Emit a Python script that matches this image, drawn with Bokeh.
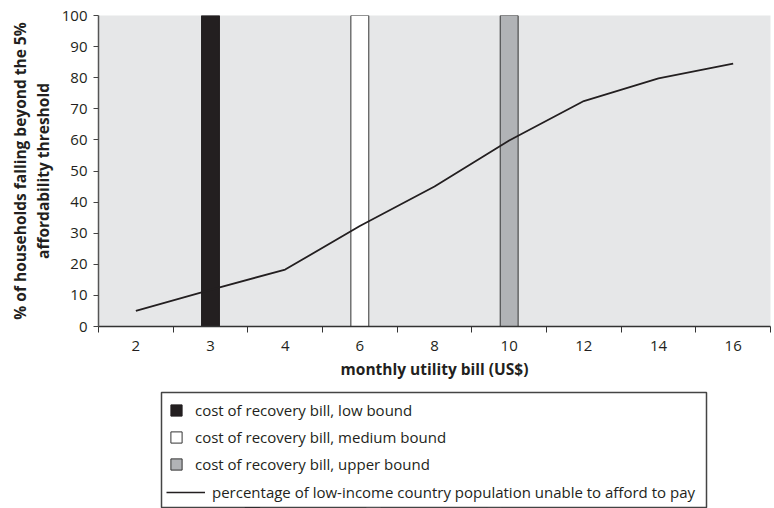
from bokeh.plotting import figure
from bokeh.models import Range1d, FixedTicker, Legend, LegendItem
from bokeh.embed import file_html
from bokeh.resources import INLINE

# ---- data ----
categories = ["2", "3", "4", "6", "8", "10", "12", "14", "16"]
pct_unable = [5, 11.8, 18.3, 32.3, 45, 59.8, 72.5, 79.8, 84.5]
low_bound_cat = ["3"]
medium_bound_cat = ["6"]
upper_bound_cat = ["10"]
bar_top = [100]
y_ticks = [0, 10, 20, 30, 40, 50, 60, 70, 80, 90, 100]

series_labels = [
    "cost of recovery bill, low bound",
    "cost of recovery bill, medium bound",
    "cost of recovery bill, upper bound",
    "percentage of low-income country population unable to afford to pay",
]

FONT = "Open Sans"
TXT = "#231f20"
idx = {c: i for i, c in enumerate(categories)}
x_line = list(range(len(categories)))
x_low = [idx[c] for c in low_bound_cat]
x_med = [idx[c] for c in medium_bound_cat]
x_up = [idx[c] for c in upper_bound_cat]

BAR_STYLES = [
    dict(fill_color="#231f20", line_color="#231f20", line_width=1),
    dict(fill_color="white", line_color="#333333", line_width=1),
    dict(fill_color="#b1b3b6", line_color="#333333", line_width=1),
]
LINE_STYLE = dict(line_color="#231f20", line_width=1.8)

p = figure(width=774, height=388, output_backend="svg", toolbar_location=None,
           x_range=Range1d(-0.5, len(categories) - 0.5), y_range=Range1d(0, 100),
           min_border_left=98, min_border_right=4, min_border_top=15, min_border_bottom=62)
p.background_fill_color = "#e6e7e8"
p.border_fill_color = "white"
p.outline_line_color = None
p.xgrid.visible = False
p.ygrid.visible = False

bar_w = 0.24
for xs, st in zip([x_low, x_med, x_up], BAR_STYLES):
    p.vbar(x=xs, top=bar_top, width=bar_w, **st)
p.line(x=x_line, y=pct_unable, **LINE_STYLE)

# x axis: labels at category centres, tick marks at category boundaries
xa = p.xaxis[0]
xa.ticker = FixedTicker(ticks=x_line,
                        minor_ticks=[i - 0.5 for i in range(len(categories) + 1)])
xa.major_label_overrides = {i: c for i, c in enumerate(categories)}
xa.major_tick_out = 0
xa.major_tick_in = 0
xa.minor_tick_out = 6
xa.minor_tick_in = 0
xa.minor_tick_line_color = "#333333"
xa.axis_line_color = "#333333"
xa.axis_line_width = 1.5
xa.major_label_text_font = FONT
xa.major_label_text_font_size = "15px"
xa.major_label_text_color = TXT
xa.major_label_standoff = 8
xa.axis_label = "monthly utility bill (US$)"
xa.axis_label_text_font = FONT
xa.axis_label_text_font_size = "15.5px"
xa.axis_label_text_font_style = "bold"
xa.axis_label_text_color = TXT
xa.axis_label_standoff = 4

ya = p.yaxis[0]
ya.ticker = FixedTicker(ticks=y_ticks, minor_ticks=[])
ya.major_tick_out = 5
ya.major_tick_in = 0
ya.major_tick_line_color = "#444444"
ya.axis_line_color = "#555555"
ya.axis_line_width = 1.5
ya.major_label_text_font = FONT
ya.major_label_text_font_size = "15px"
ya.major_label_text_color = TXT
ya.major_label_standoff = 6
ya.axis_label = "% of households falling beyond the 5%\naffordability threshold"
ya.axis_label_text_font = FONT
ya.axis_label_text_font_size = "15.5px"
ya.axis_label_text_font_style = "bold"
ya.axis_label_text_color = TXT
ya.axis_label_text_line_height = 1.05
ya.axis_label_standoff = 5

# ---- legend box: a separate small figure whose frame outline is the box ----
lf = figure(width=774, height=120, output_backend="svg", toolbar_location=None,
            x_range=Range1d(-0.5, len(categories) - 0.5), y_range=Range1d(200, 201),
            x_axis_type=None, y_axis_type=None,
            min_border_left=161, min_border_right=68, min_border_top=4, min_border_bottom=1)
lf.background_fill_color = "white"
lf.border_fill_color = "white"
lf.outline_line_color = "#444444"
lf.outline_line_width = 1.5

# proxies for the legend (same data, outside the legend figure's visible range)
r_low = lf.vbar(x=x_low, top=bar_top, width=bar_w, **BAR_STYLES[0])
r_med = lf.vbar(x=x_med, top=bar_top, width=bar_w, **BAR_STYLES[1])
r_up = lf.vbar(x=x_up, top=bar_top, width=bar_w, **BAR_STYLES[2])
r_line = lf.line(x=x_line, y=pct_unable, line_color="#231f20", line_width=1.5)

def style(leg):
    leg.label_text_font = FONT
    leg.label_text_font_size = "15px"
    leg.label_text_color = TXT
    leg.border_line_color = None
    leg.background_fill_alpha = 0
    leg.padding = 0

legA = Legend(items=[LegendItem(label=series_labels[0], renderers=[r_low]),
                     LegendItem(label=series_labels[1], renderers=[r_med]),
                     LegendItem(label=series_labels[2], renderers=[r_up])],
              location="top_left")
style(legA)
legA.margin = 8
legA.glyph_width = 14
legA.glyph_height = 14
legA.label_height = 20
legA.spacing = 7
legA.label_standoff = 12

legB = Legend(items=[LegendItem(label=series_labels[3], renderers=[r_line])],
              location="bottom_left")
style(legB)
legB.margin = 5
legB.glyph_width = 39
legB.glyph_height = 14
legB.label_height = 20
legB.label_standoff = 7

lf.add_layout(legA, "center")
lf.add_layout(legB, "center")

open("out.html", "w").write(file_html([p, lf], INLINE))
